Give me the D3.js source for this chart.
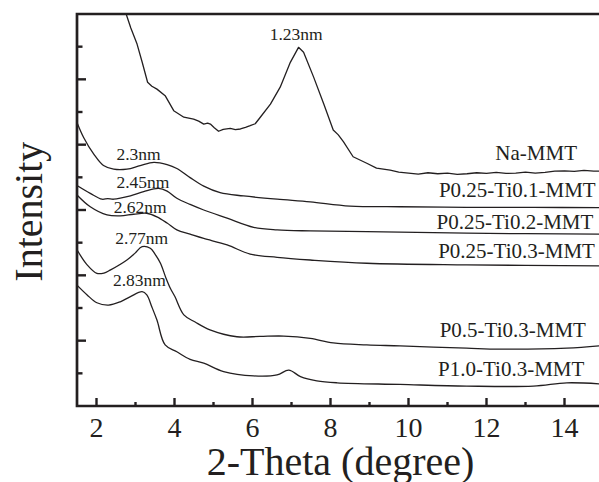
<!DOCTYPE html>
<html><head><meta charset="utf-8">
<script src="https://cdn.jsdelivr.net/npm/d3@7"></script>
<style>
html,body{margin:0;padding:0;background:#fff;}
svg{display:block;}
text{font-family:'Liberation Serif','Times New Roman',Times,serif;}
</style></head>
<body><svg id="c" width="599" height="482"></svg>
<script>
// ---- data (2-theta in degrees, intensity in arbitrary offset units) ----
const naX = [2.71,2.76,2.88,3.04,3.17,3.31,3.42,3.55,3.76,3.98,4.24,4.49,4.62,4.75,4.85,4.92,5.02,5.13,5.25,5.43,5.56,5.69,5.82,5.94,6.07,6.20,6.46,6.71,6.97,7.18,7.31,7.57,7.83,8.07,8.20,8.33,8.58,8.93,9.18,9.53,9.75,10.0,10.25,10.5,10.75,11.0,11.25,11.5,11.75,12.0,12.25,12.5,12.75,13.0,13.25,13.5,13.75,14.0,14.25,14.5,14.75,15.0];
const naY = [12.24,12.0,11.57,11.08,10.53,9.91,9.79,9.70,9.50,9.04,8.84,8.78,8.72,8.63,8.66,8.63,8.52,8.41,8.47,8.50,8.46,8.48,8.53,8.58,8.64,8.84,9.24,9.76,10.52,10.98,10.83,10.06,9.24,8.45,8.30,8.09,7.63,7.43,7.28,7.22,7.16,7.13,7.10,7.14,7.11,7.13,7.09,7.11,7.14,7.12,7.15,7.12,7.13,7.16,7.13,7.15,7.19,7.20,7.18,7.21,7.19,7.19];

const t01X = [1.5,1.67,1.93,2.18,2.44,2.78,3.12,3.47,3.81,4.06,4.40,4.75,5.17,5.77,6.63,7.48,8.50,9.78,11.49,13.20,15.0];
const t01Y = [8.68,8.22,7.71,7.36,7.25,7.25,7.36,7.46,7.39,7.27,6.99,6.73,6.53,6.43,6.33,6.25,6.12,6.10,6.08,6.08,6.07];

const t02X = [1.5,1.84,2.14,2.29,2.44,2.87,3.21,3.59,3.81,4.06,4.40,4.75,5.35,6.03,6.63,7.48,8.93,11.49,15.0];
const t02Y = [6.75,6.51,6.33,6.35,6.33,6.43,6.56,6.66,6.58,6.36,6.17,6.00,5.75,5.47,5.39,5.36,5.34,5.29,5.26];

const t03X = [1.5,1.84,2.27,2.61,2.95,3.29,3.55,3.81,4.06,4.40,4.75,5.35,5.94,6.63,7.48,8.93,11.49,15.0];
const t03Y = [6.46,6.10,5.85,5.82,5.87,5.90,5.79,5.60,5.39,5.26,5.13,4.93,4.65,4.55,4.47,4.37,4.32,4.29];

const p05X = [1.5,1.76,2.01,2.19,2.35,2.78,2.99,3.17,3.38,3.50,3.64,3.78,3.89,4.01,4.24,4.53,4.91,5.60,6.19,6.80,7.48,8.07,8.93,9.78,11.49,12.35,14.06,15.0];
const p05Y = [4.78,4.32,4.06,4.07,4.16,4.47,4.68,4.88,4.83,4.65,4.37,3.92,3.61,3.35,2.79,2.57,2.33,2.12,2.13,2.14,2.07,1.93,1.87,1.84,1.77,1.74,1.77,1.85];

const p10X = [1.5,1.76,2.01,2.31,2.61,2.87,3.17,3.29,3.42,3.55,3.76,4.06,4.40,4.75,5.26,6.03,6.63,6.93,7.23,7.65,8.17,9.78,11.49,13.20,14.06,15.0];
const p10Y = [3.70,3.40,3.16,3.09,3.19,3.35,3.50,3.40,3.03,2.63,1.87,1.66,1.43,1.31,1.05,0.92,0.95,1.10,0.90,0.77,0.71,0.66,0.61,0.61,0.71,0.67];

const seriesNames = ["Na-MMT","P0.25-Ti0.1-MMT","P0.25-Ti0.2-MMT","P0.25-Ti0.3-MMT","P0.5-Ti0.3-MMT","P1.0-Ti0.3-MMT"];
const seriesX = [naX,t01X,t02X,t03X,p05X,p10X];
const seriesY = [naY,t01Y,t02Y,t03Y,p05Y,p10Y];
// curve name labels (right-aligned) anchor points in data units
const nameLabelX = [14.32,14.80,14.74,14.78,14.55,14.51];
const nameLabelY = [7.53,6.41,5.41,4.54,2.10,0.92];
// d-spacing annotations
const peakLabels = ["1.23nm","2.3nm","2.45nm","2.62nm","2.77nm","2.83nm"];
const peakLabelX = [6.44,2.51,2.51,2.44,2.48,2.42];
const peakLabelY = [11.2,7.53,6.66,5.92,4.96,3.66];

const xMajorTicks = [2,4,6,8,10,12,14];
const xMinorTicks = [3,5,7,9,11,13];
const yMajorTicks = [2,4,6,8,10];
const yMinorTicks = [1,3,5,7,9,11];

// ---- drawing ----
const ink = "#231f20";
const FONT = "'Liberation Serif','Times New Roman',Times,serif";
const svg = d3.select("#c");
const x = d3.scaleLinear().domain([1.5,15]).range([77,603.5]);
const y = d3.scaleLinear().domain([0,12]).range([406,14]);

svg.append("defs").append("clipPath").attr("id","clip")
  .append("rect").attr("x",77).attr("y",14).attr("width",530).attr("height",392);

const lineLin = d3.line().x(d=>x(d[0])).y(d=>y(d[1])).curve(d3.curveLinear);
const lineSmooth = d3.line().x(d=>x(d[0])).y(d=>y(d[1])).curve(d3.curveCatmullRom.alpha(0.5));
const g = svg.append("g").attr("clip-path","url(#clip)");
seriesX.forEach((xs,i)=>{
  const pts = xs.map((v,j)=>[v,seriesY[i][j]]);
  g.append("path").attr("d",(i===0?lineLin:lineSmooth)(pts)).attr("fill","none")
   .attr("stroke",ink).attr("stroke-width",1.3).attr("stroke-linejoin","round");
});

// axes frame
svg.append("path").attr("d",`M${x(15)},${y(12)}H${x(1.5)}V${y(0)}H${x(15)}`)
  .attr("fill","none").attr("stroke",ink).attr("stroke-width",2.7).attr("stroke-linejoin","miter");

// ticks (inward)
const tk = svg.append("g").attr("stroke",ink).attr("stroke-width",2.4);
xMajorTicks.forEach(v=>tk.append("line").attr("x1",x(v)).attr("x2",x(v)).attr("y1",y(0)).attr("y2",y(0)-8));
xMinorTicks.forEach(v=>tk.append("line").attr("x1",x(v)).attr("x2",x(v)).attr("y1",y(0)).attr("y2",y(0)-4));
yMajorTicks.forEach(v=>tk.append("line").attr("y1",y(v)).attr("y2",y(v)).attr("x1",x(1.5)).attr("x2",x(1.5)+9));
yMinorTicks.forEach(v=>tk.append("line").attr("y1",y(v)).attr("y2",y(v)).attr("x1",x(1.5)).attr("x2",x(1.5)+5.5));

// tick labels
svg.append("g").selectAll("text").data(xMajorTicks).join("text")
  .attr("x",d=>x(d)).attr("y",437).attr("text-anchor","middle").attr("font-family",FONT)
  .attr("font-size",28).attr("fill",ink).text(d=>d);

// axis titles
svg.append("text").attr("x",340.5).attr("y",475).attr("text-anchor","middle").attr("font-family",FONT)
  .attr("font-size",40).attr("fill",ink).text("2-Theta (degree)");
svg.append("text").attr("transform","translate(41.7,211.7) rotate(-90)").attr("text-anchor","middle").attr("font-family",FONT)
  .attr("font-size",40).attr("fill",ink).text("Intensity");

// labels
svg.append("g").selectAll("text").data(seriesNames).join("text")
  .attr("x",(d,i)=>x(nameLabelX[i])).attr("y",(d,i)=>y(nameLabelY[i])).attr("font-family",FONT)
  .attr("text-anchor","end").attr("font-size",21).attr("fill",ink).text(d=>d);
svg.append("g").selectAll("text").data(peakLabels).join("text")
  .attr("x",(d,i)=>x(peakLabelX[i])).attr("y",(d,i)=>y(peakLabelY[i])).attr("font-family",FONT)
  .attr("text-anchor","start").attr("font-size",17.5).attr("fill",ink).text(d=>d);
</script></body></html>
